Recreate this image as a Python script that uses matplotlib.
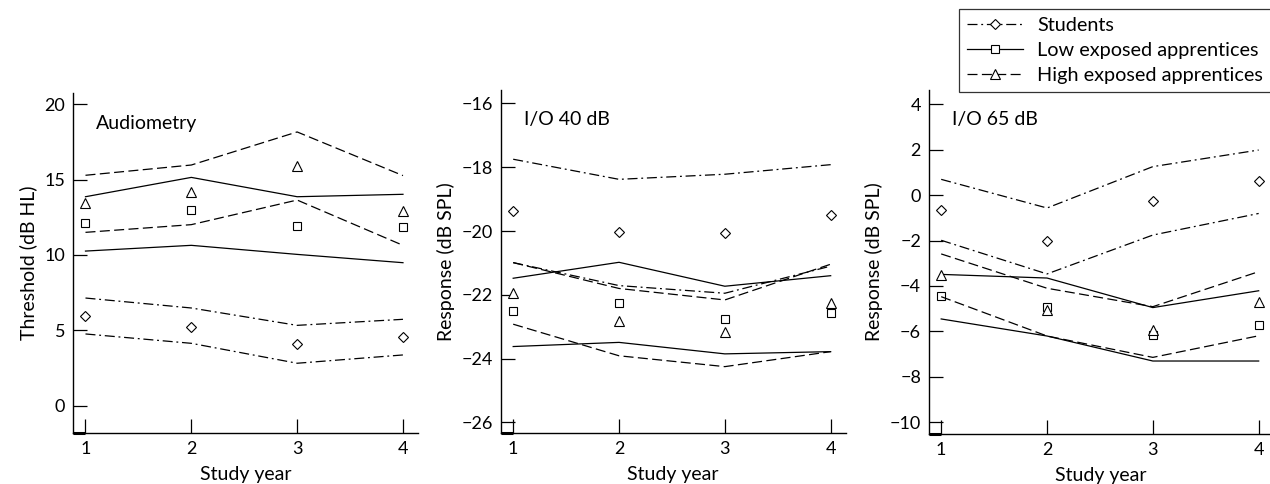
import matplotlib
matplotlib.use("Agg")
import matplotlib.pyplot as plt
from matplotlib.lines import Line2D

plt.rcParams['font.family'] = ['Lato', 'DejaVu Sans']

years = [1, 2, 3, 4]

aud_students_mean = [5.96, 5.25, 4.08, 4.55]
aud_students_lo = [4.77, 4.15, 2.83, 3.38]
aud_students_hi = [7.15, 6.49, 5.34, 5.74]
aud_low_mean = [12.12, 12.98, 11.92, 11.85]
aud_low_lo = [10.26, 10.64, 10.04, 9.49]
aud_low_hi = [13.86, 15.14, 13.86, 14.02]
aud_high_mean = [13.42, 14.15, 15.92, 12.94]
aud_high_lo = [11.50, 12.01, 13.64, 10.64]
aud_high_hi = [15.28, 15.96, 18.15, 15.26]

io40_students_mean = [-19.38, -20.04, -20.05, -19.51]
io40_students_lo = [-20.99, -21.71, -21.95, -21.10]
io40_students_hi = [-17.75, -18.38, -18.22, -17.92]
io40_low_mean = [-22.50, -22.24, -22.76, -22.58]
io40_low_lo = [-23.62, -23.49, -23.85, -23.78]
io40_low_hi = [-21.48, -20.98, -21.73, -21.40]
io40_high_mean = [-21.95, -22.82, -23.17, -22.26]
io40_high_lo = [-22.92, -23.91, -24.25, -23.78]
io40_high_hi = [-20.99, -21.80, -22.16, -21.04]

io65_students_mean = [-0.66, -2.01, -0.28, 0.60]
io65_students_lo = [-1.99, -3.47, -1.76, -0.81]
io65_students_hi = [0.69, -0.57, 1.25, 1.98]
io65_low_mean = [-4.44, -4.94, -6.14, -5.72]
io65_low_lo = [-5.45, -6.20, -7.30, -7.30]
io65_low_hi = [-3.49, -3.65, -4.95, -4.21]
io65_high_mean = [-3.52, -5.06, -5.94, -4.71]
io65_high_lo = [-4.47, -6.20, -7.14, -6.19]
io65_high_hi = [-2.59, -4.10, -4.91, -3.37]

panel_titles = ["Audiometry", "I/O 40 dB", "I/O 65 dB"]
y_labels = ["Threshold (dB HL)", "Response (dB SPL)", "Response (dB SPL)"]
x_label = "Study year"
group_names = ["Students", "Low exposed apprentices", "High exposed apprentices"]

y_ticks = [[0, 5, 10, 15, 20], [-26, -24, -22, -20, -18, -16], [-10, -8, -6, -4, -2, 0, 2, 4]]
y_limits = [(-1.79, 20.73), (-26.33, -15.58), (-10.51, 4.62)]

panels = [
    [(aud_students_mean, aud_students_lo, aud_students_hi),
     (aud_low_mean, aud_low_lo, aud_low_hi),
     (aud_high_mean, aud_high_lo, aud_high_hi)],
    [(io40_students_mean, io40_students_lo, io40_students_hi),
     (io40_low_mean, io40_low_lo, io40_low_hi),
     (io40_high_mean, io40_high_lo, io40_high_hi)],
    [(io65_students_mean, io65_students_lo, io65_students_hi),
     (io65_low_mean, io65_low_lo, io65_low_hi),
     (io65_high_mean, io65_high_lo, io65_high_hi)],
]

styles = [
    dict(ls=(0, (8, 3, 1.5, 3)), marker='D', ms=5.2),
    dict(ls='-', marker='s', ms=6.0),
    dict(ls=(0, (8, 3.5)), marker='^', ms=6.5),
]

W, H = 1270, 484
fig = plt.figure(figsize=(W / 100, H / 100), dpi=100)

axes_px = [(73, 93, 345, 340), (500.7, 90, 345, 343), (928.7, 90, 345, 344)]
XMIN, XMAX = 0.882, 4.142
lw = 0.9
fs = 14
tfs = 13
lfs = 14.3

for i, (l, t, w, h) in enumerate(axes_px):
    ax = fig.add_axes([l / W, 1 - (t + h) / H, w / W, h / H])
    for g, (mean, lo, hi) in enumerate(panels[i]):
        st = styles[g]
        ax.plot(years, lo, color='black', lw=lw, ls=st['ls'])
        ax.plot(years, hi, color='black', lw=lw, ls=st['ls'])
        ax.plot(years, mean, ls='none', marker=st['marker'], ms=st['ms'],
                mfc='white', mec='black', mew=0.8)
    ax.set_xlim(XMIN, XMAX)
    ax.set_ylim(*y_limits[i])
    ax.set_xticks(years)
    ax.set_yticks(y_ticks[i])
    ax.set_yticklabels([str(v).replace('-', '\u2212') for v in y_ticks[i]])
    ax.tick_params(direction='in', length=10, width=0.9, labelsize=tfs, pad=5.5, colors='black')
    for s in ['top', 'right']:
        ax.spines[s].set_visible(False)
    for s in ['left', 'bottom']:
        ax.spines[s].set_linewidth(1.0)
    # thicker corner segment seen in the original
    ax.plot([0, (years[0] - XMIN) / (XMAX - XMIN)], [0, 0], transform=ax.transAxes,
            color='black', lw=2.2, clip_on=False, solid_capstyle='butt')
    ax.set_xlabel(x_label, fontsize=fs, labelpad=7)
    ax.set_ylabel(y_labels[i], fontsize=fs, labelpad=5)
    ax.text(23 / w, 1 - 30 / h, panel_titles[i], transform=ax.transAxes,
            fontsize=fs, ha='left', va='center')

handles = [Line2D([], [], color='black', lw=lw, ls=styles[g]['ls'], marker=styles[g]['marker'],
                  ms=styles[g]['ms'], mfc='white', mec='black', mew=0.8) for g in range(3)]
leg = fig.legend(handles, group_names, loc='upper left', bbox_to_anchor=(959 / W, 1 - 9 / H),
                 fontsize=lfs, frameon=True, fancybox=False, edgecolor='black',
                 handlelength=2.8, numpoints=1, borderpad=0.4, labelspacing=0.4,
                 handletextpad=0.75, borderaxespad=0)
leg.get_frame().set_linewidth(0.9)

fig.savefig("out.png", dpi=100)
